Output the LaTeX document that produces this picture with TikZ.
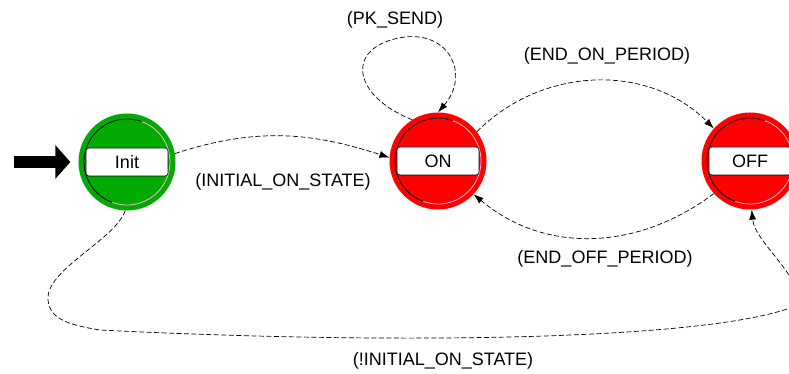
\documentclass[tikz,border=0pt]{standalone}
\usepackage{fontspec}
\setmainfont{Liberation Sans}
\usepackage{tikz}
\usetikzlibrary{
    arrows.meta,
    positioning
}
\definecolor{initgreen}{RGB}{0,170,0}
\definecolor{statered}{RGB}{255,0,0}
\definecolor{rimlight}{RGB}{255,175,210}

\begin{document}
\begin{tikzpicture}[x=1pt, y=-1pt,
    state/.style={circle, draw=none, minimum size=97pt, inner sep=0pt,
        path picture={
            \draw[black, line width=0.8pt] (path picture bounding box.center) ++(70:43pt) arc (70:250:43pt);
            \draw[rimlight, line width=0.8pt] (path picture bounding box.center) ++(250:43pt) arc (250:430:43pt);
        }},
    namebox/.style={rectangle, draw=black, fill=white, rounded corners=3pt, line width=0.6pt,
        minimum width=82pt, minimum height=28pt, inner sep=0pt, font=\fontsize{18}{20}\selectfont},
    lbl/.style={inner sep=0pt, font=\fontsize{18}{20}\selectfont},
    trans/.style={draw, line width=0.7pt, dash pattern=on 5pt off 2.5pt, -{Latex[length=10pt, width=7pt]}},
    startarrow/.style={line width=12pt, -{Triangle[length=15pt, width=33pt]}, shorten >=8pt}
]
    \useasboundingbox (0,0) rectangle (789,374);

    \node[state, fill=initgreen] (init) at (127,162) {};
    \node[namebox] (initname) at (init) {Init};
    \node[state, fill=statered] (on) at (438,161) {};
    \node[namebox] (onname) at (on) {ON};
    \node[state, fill=statered] (off) at (750,161) {};
    \node[namebox] (offname) at (off) {OFF};

    \coordinate (entry) at (14,162);
    \draw[startarrow] (entry) -- (init.west);

    \draw[trans] (init.10) to[out=18, in=162] (on.176);
    \draw[trans] (on.122) .. controls (350,95) and (345,45) .. (405,37)
        .. controls (450,32) and (470,75) .. (on.90);
    \draw[trans] (on.37) to[out=45, in=135] (off.138);
    \draw[trans] (off.222) to[out=217, in=-40] (on.-43);
    \draw[trans] (init.268) .. controls (115,240) and (45,270) .. (48,300)
        .. controls (50,320) and (70,325) .. (100,330)
        .. controls (400,345) and (700,340) .. (790,308)
        .. controls (815,285) and (755,245) .. (off.272);

    \node[lbl] (pksend) at (395,20) {(PK\_SEND)};
    \node[lbl] (initon) at (283,182) {(INITIAL\_ON\_STATE)};
    \node[lbl] (endon) at (607,56) {(END\_ON\_PERIOD)};
    \node[lbl] (endoff) at (605,259) {(END\_OFF\_PERIOD)};
    \node[lbl] (notinit) at (443,361) {(!INITIAL\_ON\_STATE)};
\end{tikzpicture}
\end{document}
